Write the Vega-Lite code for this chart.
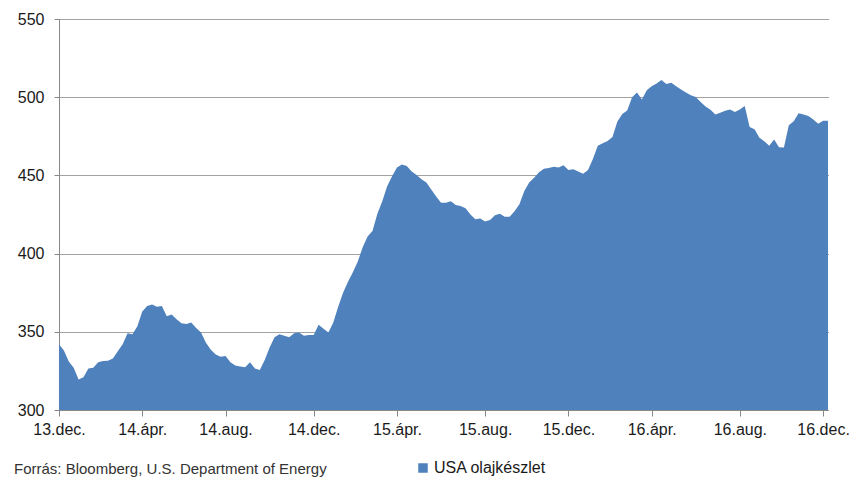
{
  "$schema": "https://vega.github.io/schema/vega-lite/v6.json",
  "width": 769,
  "height": 391,
  "autosize": {"type": "none"},
  "padding": {"left": 59, "top": 19, "right": 28, "bottom": 68},
  "background": "white",
  "config": {"font": "Liberation Sans", "view": {"stroke": null}},
  "title": {"text": "Forrás: Bloomberg, U.S. Department of Energy", "orient": "bottom", "anchor": "start", "frame": "group", "dx": -45, "offset": -14, "fontSize": 15, "fontWeight": "normal", "color": "#333"},
  "data": {"values": [
    {"date": "2013-12-06", "value": 342}, {"date": "2013-12-13", "value": 338}, {"date": "2013-12-20", "value": 331}, {"date": "2013-12-27", "value": 327},
    {"date": "2014-01-03", "value": 319.5}, {"date": "2014-01-10", "value": 321}, {"date": "2014-01-17", "value": 326.5}, {"date": "2014-01-24", "value": 327}, {"date": "2014-01-31", "value": 330.5},
    {"date": "2014-02-07", "value": 331.3}, {"date": "2014-02-14", "value": 331.5}, {"date": "2014-02-21", "value": 333}, {"date": "2014-02-28", "value": 337.5},
    {"date": "2014-03-07", "value": 342}, {"date": "2014-03-14", "value": 349}, {"date": "2014-03-21", "value": 348.5}, {"date": "2014-03-28", "value": 353.5},
    {"date": "2014-04-04", "value": 363}, {"date": "2014-04-11", "value": 366.5}, {"date": "2014-04-18", "value": 367.5}, {"date": "2014-04-25", "value": 366},
    {"date": "2014-05-02", "value": 366.5}, {"date": "2014-05-09", "value": 360}, {"date": "2014-05-16", "value": 361}, {"date": "2014-05-23", "value": 358}, {"date": "2014-05-30", "value": 355.5},
    {"date": "2014-06-06", "value": 355}, {"date": "2014-06-13", "value": 356}, {"date": "2014-06-20", "value": 352.5}, {"date": "2014-06-27", "value": 349.5},
    {"date": "2014-07-04", "value": 343}, {"date": "2014-07-11", "value": 338.5}, {"date": "2014-07-18", "value": 335.5}, {"date": "2014-07-25", "value": 334},
    {"date": "2014-08-01", "value": 334.5}, {"date": "2014-08-08", "value": 330.5}, {"date": "2014-08-15", "value": 328.5}, {"date": "2014-08-22", "value": 327.8}, {"date": "2014-08-29", "value": 327.3},
    {"date": "2014-09-05", "value": 330.5}, {"date": "2014-09-12", "value": 326.5}, {"date": "2014-09-19", "value": 325.5}, {"date": "2014-09-26", "value": 332},
    {"date": "2014-10-03", "value": 340}, {"date": "2014-10-10", "value": 346.5}, {"date": "2014-10-17", "value": 348.5}, {"date": "2014-10-24", "value": 347.5}, {"date": "2014-10-31", "value": 346.5},
    {"date": "2014-11-07", "value": 349}, {"date": "2014-11-14", "value": 349.5}, {"date": "2014-11-21", "value": 347.5}, {"date": "2014-11-28", "value": 348},
    {"date": "2014-12-05", "value": 348}, {"date": "2014-12-12", "value": 354.5}, {"date": "2014-12-19", "value": 352}, {"date": "2014-12-26", "value": 349.5},
    {"date": "2015-01-02", "value": 356}, {"date": "2015-01-09", "value": 366}, {"date": "2015-01-16", "value": 375}, {"date": "2015-01-23", "value": 382}, {"date": "2015-01-30", "value": 388},
    {"date": "2015-02-06", "value": 395}, {"date": "2015-02-13", "value": 404}, {"date": "2015-02-20", "value": 411}, {"date": "2015-02-27", "value": 414.5},
    {"date": "2015-03-06", "value": 425.5}, {"date": "2015-03-13", "value": 433.5}, {"date": "2015-03-20", "value": 443}, {"date": "2015-03-27", "value": 449.5},
    {"date": "2015-04-03", "value": 455}, {"date": "2015-04-10", "value": 457}, {"date": "2015-04-17", "value": 456}, {"date": "2015-04-24", "value": 452.5},
    {"date": "2015-05-01", "value": 450.3}, {"date": "2015-05-08", "value": 447.5}, {"date": "2015-05-15", "value": 445.5}, {"date": "2015-05-22", "value": 441}, {"date": "2015-05-29", "value": 436.5},
    {"date": "2015-06-05", "value": 432.5}, {"date": "2015-06-12", "value": 432.5}, {"date": "2015-06-19", "value": 433.5}, {"date": "2015-06-26", "value": 431},
    {"date": "2015-07-03", "value": 430.5}, {"date": "2015-07-10", "value": 429}, {"date": "2015-07-17", "value": 425}, {"date": "2015-07-24", "value": 422}, {"date": "2015-07-31", "value": 422.5},
    {"date": "2015-08-07", "value": 420.5}, {"date": "2015-08-14", "value": 421.5}, {"date": "2015-08-21", "value": 424.5}, {"date": "2015-08-28", "value": 425.5},
    {"date": "2015-09-04", "value": 423.5}, {"date": "2015-09-11", "value": 423.5}, {"date": "2015-09-18", "value": 427}, {"date": "2015-09-25", "value": 431.5},
    {"date": "2015-10-02", "value": 440}, {"date": "2015-10-09", "value": 445.5}, {"date": "2015-10-16", "value": 448.5}, {"date": "2015-10-23", "value": 452}, {"date": "2015-10-30", "value": 454.3},
    {"date": "2015-11-06", "value": 454.7}, {"date": "2015-11-13", "value": 455.5}, {"date": "2015-11-20", "value": 455}, {"date": "2015-11-27", "value": 456.5},
    {"date": "2015-12-04", "value": 453.5}, {"date": "2015-12-11", "value": 454}, {"date": "2015-12-18", "value": 452.5}, {"date": "2015-12-25", "value": 451},
    {"date": "2016-01-01", "value": 453.5}, {"date": "2016-01-08", "value": 460.5}, {"date": "2016-01-15", "value": 469}, {"date": "2016-01-22", "value": 470.5}, {"date": "2016-01-29", "value": 472},
    {"date": "2016-02-05", "value": 474.5}, {"date": "2016-02-12", "value": 484.5}, {"date": "2016-02-19", "value": 489.3}, {"date": "2016-02-26", "value": 491.5},
    {"date": "2016-03-04", "value": 500}, {"date": "2016-03-11", "value": 503}, {"date": "2016-03-18", "value": 498.5}, {"date": "2016-03-25", "value": 504.5},
    {"date": "2016-04-01", "value": 507}, {"date": "2016-04-08", "value": 508.8}, {"date": "2016-04-15", "value": 511}, {"date": "2016-04-22", "value": 508.5}, {"date": "2016-04-29", "value": 509.2},
    {"date": "2016-05-06", "value": 507}, {"date": "2016-05-13", "value": 505}, {"date": "2016-05-20", "value": 503}, {"date": "2016-05-27", "value": 501.3},
    {"date": "2016-06-03", "value": 500.2}, {"date": "2016-06-10", "value": 497}, {"date": "2016-06-17", "value": 494}, {"date": "2016-06-24", "value": 492},
    {"date": "2016-07-01", "value": 489}, {"date": "2016-07-08", "value": 490}, {"date": "2016-07-15", "value": 491.4}, {"date": "2016-07-22", "value": 492.2}, {"date": "2016-07-29", "value": 490.5},
    {"date": "2016-08-05", "value": 492.2}, {"date": "2016-08-12", "value": 494.4}, {"date": "2016-08-19", "value": 481}, {"date": "2016-08-26", "value": 479.5},
    {"date": "2016-09-02", "value": 474}, {"date": "2016-09-09", "value": 471.8}, {"date": "2016-09-16", "value": 469}, {"date": "2016-09-23", "value": 473}, {"date": "2016-09-30", "value": 468},
    {"date": "2016-10-07", "value": 467.8}, {"date": "2016-10-14", "value": 482}, {"date": "2016-10-21", "value": 484.7}, {"date": "2016-10-28", "value": 489.7},
    {"date": "2016-11-04", "value": 489}, {"date": "2016-11-11", "value": 488}, {"date": "2016-11-18", "value": 485.8}, {"date": "2016-11-25", "value": 483},
    {"date": "2016-12-02", "value": 485}, {"date": "2016-12-09", "value": 485}
  ]},
  "mark": {"type": "area", "interpolate": "linear", "clip": true},
  "encoding": {
    "x": {
      "field": "date", "type": "temporal",
      "scale": {"type": "utc", "domain": [{"year": 2013, "month": 12, "date": 6, "utc": true}, {"year": 2016, "month": 12, "date": 9, "utc": true}]},
      "axis": {
        "title": null, "grid": false, "labelAngle": 0,
        "values": [
          {"year": 2013, "month": 12, "date": 6, "utc": true},
          {"year": 2014, "month": 4, "date": 4, "utc": true},
          {"year": 2014, "month": 8, "date": 1, "utc": true},
          {"year": 2014, "month": 12, "date": 5, "utc": true},
          {"year": 2015, "month": 4, "date": 3, "utc": true},
          {"year": 2015, "month": 8, "date": 7, "utc": true},
          {"year": 2015, "month": 12, "date": 4, "utc": true},
          {"year": 2016, "month": 4, "date": 1, "utc": true},
          {"year": 2016, "month": 8, "date": 5, "utc": true},
          {"year": 2016, "month": 12, "date": 2, "utc": true}
        ],
        "labelExpr": "utcFormat(datum.value, '%y') + '.' + (utcmonth(datum.value) == 11 ? 'dec.' : utcmonth(datum.value) == 3 ? 'ápr.' : 'aug.')",
        "labelFontSize": 16, "labelColor": "#1a1a1a", "labelPadding": 5, "labelFlush": false, "labelOverlap": false,
        "tickSize": 6, "tickColor": "#888", "domainColor": "#888"
      }
    },
    "y": {
      "field": "value", "type": "quantitative",
      "scale": {"domain": [300, 550], "nice": false, "zero": false},
      "axis": {
        "title": null, "values": [300, 350, 400, 450, 500, 550],
        "labelFontSize": 16, "labelColor": "#1a1a1a", "labelPadding": 10,
        "tickSize": 5, "tickColor": "#888", "domainColor": "#888",
        "grid": true, "gridColor": "#444", "gridDash": [1, 1], "gridWidth": 1
      }
    },
    "y2": {"datum": 300},
    "color": {
      "datum": "USA olajkészlet",
      "scale": {"range": ["#4f81bd"]},
      "legend": {"title": null, "orient": "none", "legendX": 356, "legendY": 441, "symbolType": "square", "symbolSize": 90, "symbolStrokeWidth": 0, "labelFontSize": 16, "labelColor": "#1a1a1a", "labelOffset": 3}
    }
  }
}
